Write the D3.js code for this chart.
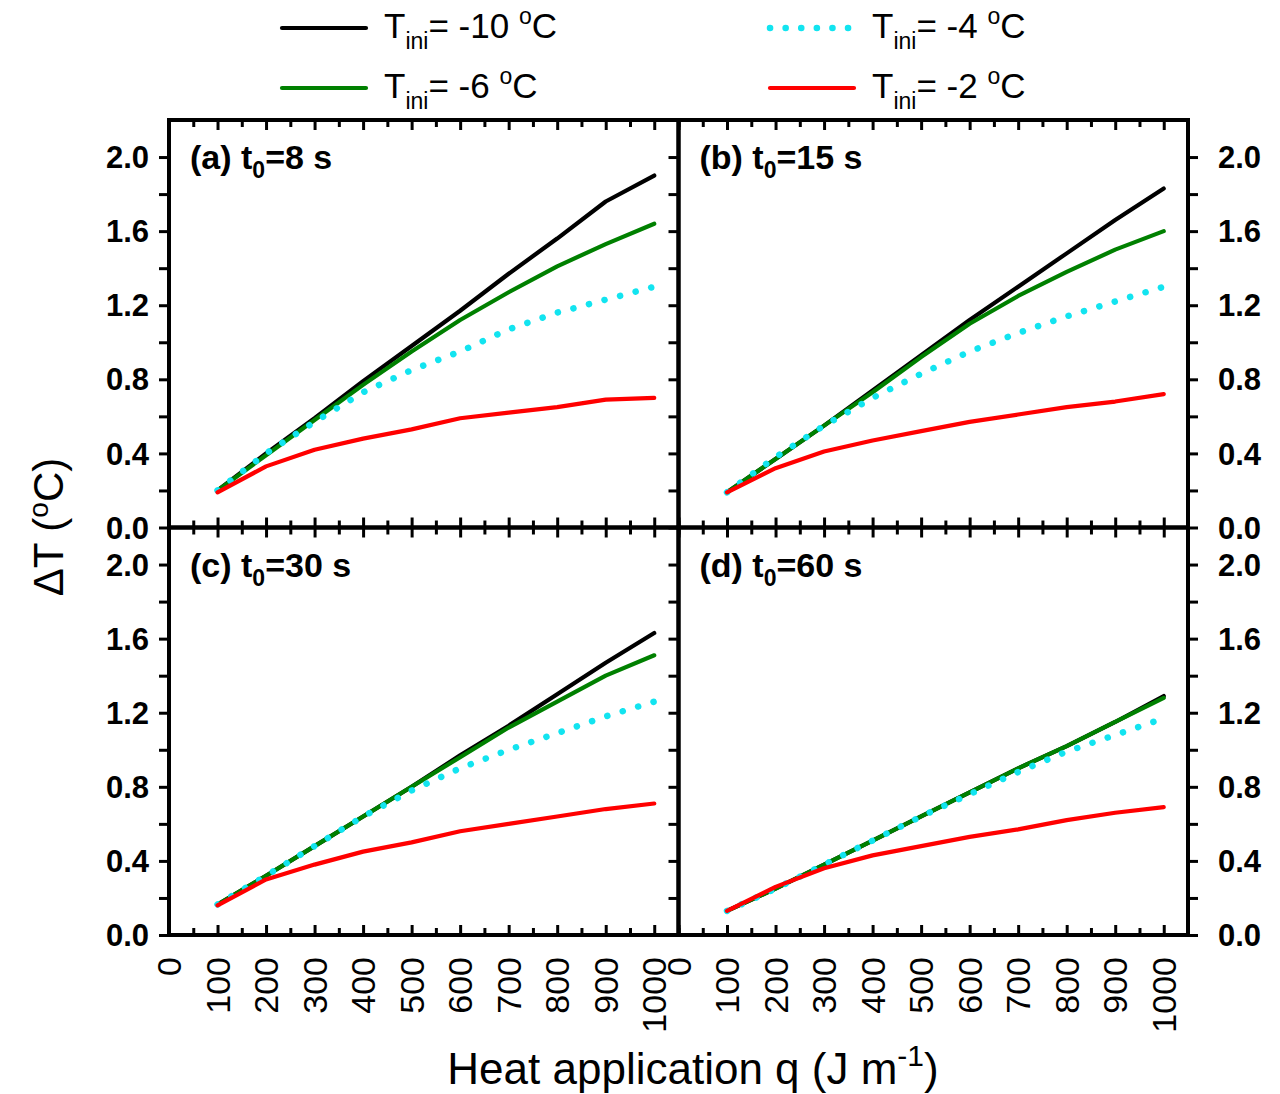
<!DOCTYPE html>
<html>
<head>
<meta charset="utf-8">
<script src="https://cdn.jsdelivr.net/npm/d3@7"></script>
<style>
  body { margin: 0; background: #fff; }
  svg { display: block; }
  text { font-family: "Liberation Sans", Arial, sans-serif; fill: #000; }
</style>
</head>
<body>
<svg id="chart" width="1280" height="1094"></svg>
<script>
// heat application q (J m-1)
var qValues = [100, 200, 300, 400, 500, 600, 700, 800, 900, 1000];

// (a) t0 = 8 s
var a_m10 = [0.20, 0.40, 0.59, 0.79, 0.98, 1.17, 1.37, 1.56, 1.76, 1.90];
var a_m6  = [0.20, 0.39, 0.58, 0.77, 0.95, 1.12, 1.27, 1.41, 1.53, 1.64];
var a_m4  = [0.20, 0.40, 0.57, 0.73, 0.85, 0.95, 1.07, 1.16, 1.23, 1.30];
var a_m2  = [0.19, 0.33, 0.42, 0.48, 0.53, 0.59, 0.62, 0.65, 0.69, 0.70];
// (b) t0 = 15 s
var b_m10 = [0.19, 0.37, 0.55, 0.74, 0.93, 1.12, 1.30, 1.48, 1.66, 1.83];
var b_m6  = [0.19, 0.37, 0.55, 0.73, 0.92, 1.10, 1.25, 1.38, 1.50, 1.60];
var b_m4  = [0.19, 0.38, 0.55, 0.70, 0.83, 0.95, 1.05, 1.14, 1.22, 1.30];
var b_m2  = [0.19, 0.32, 0.41, 0.47, 0.52, 0.57, 0.61, 0.65, 0.68, 0.72];
// (c) t0 = 30 s
var c_m10 = [0.165, 0.32, 0.48, 0.64, 0.80, 0.97, 1.13, 1.30, 1.47, 1.63];
var c_m6  = [0.165, 0.32, 0.48, 0.64, 0.80, 0.96, 1.12, 1.26, 1.40, 1.51];
var c_m4  = [0.165, 0.32, 0.48, 0.64, 0.78, 0.90, 1.00, 1.09, 1.18, 1.26];
var c_m2  = [0.16, 0.30, 0.38, 0.45, 0.50, 0.56, 0.60, 0.64, 0.68, 0.71];
// (d) t0 = 60 s
var d_m10 = [0.13, 0.25, 0.38, 0.51, 0.64, 0.77, 0.90, 1.02, 1.15, 1.29];
var d_m6  = [0.13, 0.25, 0.38, 0.51, 0.64, 0.77, 0.90, 1.02, 1.15, 1.28];
var d_m4  = [0.13, 0.25, 0.38, 0.51, 0.64, 0.76, 0.88, 0.99, 1.08, 1.17];
var d_m2  = [0.13, 0.26, 0.36, 0.43, 0.48, 0.53, 0.57, 0.62, 0.66, 0.69];

var seriesNames = ["-10", "-6", "-4", "-2"];
var seriesColors = ["#000000", "#008000", "#12e4f0", "#ff0000"];
var panelLabels = ["(a)", "(b)", "(c)", "(d)"];
var panelTimes = ["8", "15", "30", "60"];
var xTickLabels = d3.range(0, 1001, 100);
var yTickLabels = [0.0, 0.4, 0.8, 1.2, 1.6, 2.0];

var panels = [
  { col: 0, row: 0, data: [a_m10, a_m6, a_m4, a_m2] },
  { col: 1, row: 0, data: [b_m10, b_m6, b_m4, b_m2] },
  { col: 0, row: 1, data: [c_m10, c_m6, c_m4, c_m2] },
  { col: 1, row: 1, data: [d_m10, d_m6, d_m4, d_m2] }
];

var svg = d3.select('#chart');

var left0 = 169, top0 = 120,
  panelW = 509.5, panelH = 407.5;

function lineStyle(sel, i) {
  sel.attr('fill', 'none')
    .attr('stroke', seriesColors[i])
    .attr('stroke-linejoin', 'round');
  if (i === 2) {
    sel.attr('stroke-width', 6.5)
      .attr('stroke-linecap', 'round')
      .attr('stroke-dasharray', '0.1,16');
  } else {
    sel.attr('stroke-width', 4.2)
      .attr('stroke-linecap', 'round');
  }
}

panels.forEach(function(p, pi) {
  var px = left0 + p.col * panelW,
    py = top0 + p.row * panelH;

  var x = d3.scaleLinear().domain([0, 1050]).range([px, px + panelW]);
  var y = d3.scaleLinear().domain([0, 2.2]).range([py + panelH, py]);

  var g = svg.append('g').attr('class', 'panel p' + pi);

  // x ticks (inward) on bottom and top
  var major = d3.range(0, 1001, 100), minor = d3.range(50, 1051, 100);
  [[major, 10], [minor, 7]].forEach(function(t) {
    g.append('g')
      .attr('transform', 'translate(0,' + (py + panelH) + ')')
      .call(d3.axisBottom(x).tickValues(t[0]).tickSizeInner(-t[1]).tickSizeOuter(0).tickFormat(''));
    g.append('g')
      .attr('transform', 'translate(0,' + py + ')')
      .call(d3.axisTop(x).tickValues(t[0]).tickSizeInner(-t[1]).tickSizeOuter(0).tickFormat(''));
  });

  // y ticks outward
  var yt = d3.range(0, 11).map(function(k) { return k * 0.2; });
  g.append('g')
    .attr('transform', 'translate(' + px + ',0)')
    .call(d3.axisLeft(y).tickValues(yt).tickSizeInner(10).tickSizeOuter(0).tickFormat(''));
  if (p.col === 1) {
    g.append('g')
      .attr('transform', 'translate(' + (px + panelW) + ',0)')
      .call(d3.axisRight(y).tickValues(yt).tickSizeInner(10).tickSizeOuter(0).tickFormat(''));
  }
  g.selectAll('.domain').remove();
  g.selectAll('.tick line').attr('stroke', '#000').attr('stroke-width', 3);

  // y labels
  yTickLabels.forEach(function(v) {
    g.append('text')
      .attr('x', p.col === 0 ? px - 20 : px + panelW + 30)
      .attr('y', y(v))
      .attr('dy', '0.36em')
      .attr('text-anchor', p.col === 0 ? 'end' : 'start')
      .style('font-size', '31px')
      .style('font-weight', 'bold')
      .text(v.toFixed(1));
  });

  // x labels for bottom row
  if (p.row === 1) {
    xTickLabels.forEach(function(v) {
      g.append('text')
        .attr('transform', 'translate(' + x(v) + ',' + (py + panelH + 22) + ') rotate(-90)')
        .attr('dy', '0.36em')
        .attr('text-anchor', 'end')
        .style('font-size', '34px')
        .text(v);
    });
  }

  // lines
  var line = d3.line()
    .x(function(d, i) { return x(qValues[i]); })
    .y(function(d) { return y(d); });

  p.data.forEach(function(vals, si) {
    g.append('path')
      .datum(vals)
      .attr('d', line)
      .call(lineStyle, si);
  });

  // frame
  g.append('rect')
    .attr('x', px).attr('y', py)
    .attr('width', panelW).attr('height', panelH)
    .attr('fill', 'none')
    .attr('stroke', '#000')
    .attr('stroke-width', 4);

  // panel title
  var t = g.append('text')
    .attr('x', px + 21)
    .attr('y', py + 49)
    .style('font-size', '34px')
    .style('font-weight', 'bold');
  t.append('tspan').text(panelLabels[pi] + ' t');
  t.append('tspan').attr('dy', 9).style('font-size', '23px').text('0');
  t.append('tspan').attr('dy', -9).text('=' + panelTimes[pi] + ' s');
});

// legend
var legendPos = [[282, 28], [282, 88], [770, 28], [770, 88]];
seriesNames.forEach(function(name, i) {
  var lx = legendPos[i][0], ly = legendPos[i][1];
  svg.append('line')
    .attr('x1', lx).attr('x2', lx + 84)
    .attr('y1', ly).attr('y2', ly)
    .call(lineStyle, i)
    .attr('stroke-dasharray', i === 2 ? '0.1,15.5' : null);
  var t = svg.append('text')
    .attr('x', lx + 102)
    .attr('y', ly + 10)
    .style('font-size', '35px');
  t.append('tspan').text('T');
  t.append('tspan').attr('dy', 11).style('font-size', '23px').text('ini');
  t.append('tspan').attr('dy', -11).text('= ' + name + ' ');
  t.append('tspan').attr('dy', -14).style('font-size', '23px').text('o');
  t.append('tspan').attr('dy', 14).text('C');
});

// axis titles
var yt = svg.append('text')
  .attr('transform', 'translate(63,527) rotate(-90)')
  .attr('text-anchor', 'middle')
  .style('font-size', '42px');
yt.append('tspan').text('\u0394T (');
yt.append('tspan').attr('dy', -15).style('font-size', '28px').text('o');
yt.append('tspan').attr('dy', 15).text('C)');

var xt = svg.append('text')
  .attr('x', 693)
  .attr('y', 1084)
  .attr('text-anchor', 'middle')
  .style('font-size', '44px');
xt.append('tspan').text('Heat application q (J m');
xt.append('tspan').attr('dy', -18).style('font-size', '30px').text('-1');
xt.append('tspan').attr('dy', 18).text(')');
</script>
</body>
</html>
